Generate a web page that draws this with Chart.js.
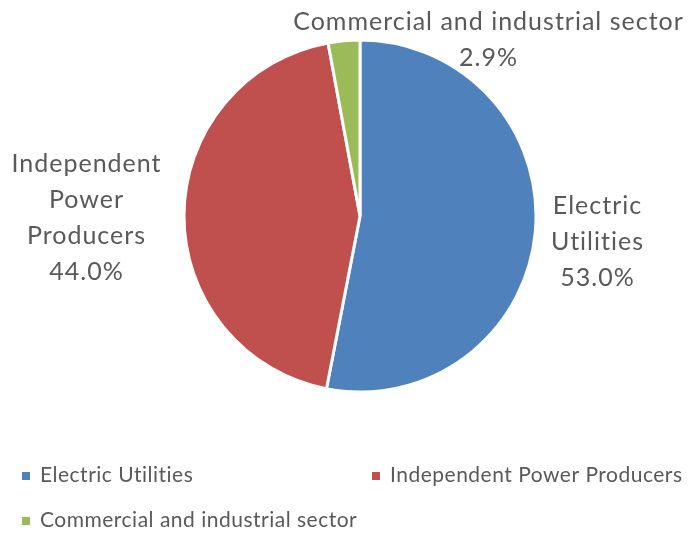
<!DOCTYPE html>
<html>
<head>
<meta charset="utf-8">
<script src="https://cdn.jsdelivr.net/npm/chart.js@4/dist/chart.umd.min.js"></script>
<style>
  html, body { margin: 0; padding: 0; background: #ffffff; }
  #wrap { width: 688px; height: 535px; }
</style>
</head>
<body>
<div id="wrap"><canvas id="c" width="688" height="535"></canvas></div>
<script>
// Ownership of capacity by sector (percent of total)
const categories = ['Electric Utilities', 'Independent Power Producers', 'Commercial and industrial sector'];
const shares = [53.0, 44.0, 2.9];
const shareLabels = ['53.0%', '44.0%', '2.9%'];
const sliceColors = ['#4F81BD', '#C0504D', '#9BBB59'];
// Category names as they wrap beside each slice
const wrappedNames = [['Electric', 'Utilities'], ['Independent', 'Power', 'Producers'], ['Commercial and industrial sector']];

const FONT = 'Lato, "Open Sans", sans-serif';
const TEXT = '#595959';

// Draws the wrapped category name plus percentage next to each slice
const sliceLabels = {
  id: 'sliceLabels',
  afterDatasetsDraw(chart, args, opts) {
    const ctx = chart.ctx;
    ctx.save();
    ctx.fillStyle = TEXT;
    ctx.font = opts.size + 'px ' + FONT;
    ctx.letterSpacing = opts.spacing + 'px';
    ctx.textAlign = 'center';
    ctx.textBaseline = 'middle';
    chart.data.labels.forEach((_, i) => {
      const a = opts.anchors[i];
      const lines = wrappedNames[i].concat([shareLabels[i]]);
      lines.forEach((t, k) => ctx.fillText(t, a.x + opts.spacing / 2, a.y + k * opts.lineHeight));
    });
    ctx.restore();
  }
};

// Two-column legend with small square swatches
const gridLegend = {
  id: 'gridLegend',
  afterDraw(chart, args, opts) {
    const ctx = chart.ctx;
    const ds = chart.data.datasets[0];
    ctx.save();
    ctx.font = opts.size + 'px ' + FONT;
    ctx.letterSpacing = opts.spacing + 'px';
    ctx.textBaseline = 'middle';
    ctx.textAlign = 'left';
    chart.data.labels.forEach((name, i) => {
      const p = opts.slots[i];
      ctx.fillStyle = ds.backgroundColor[i];
      ctx.fillRect(p.x, p.y - opts.box / 2 + 1, opts.box, opts.box);
      ctx.fillStyle = TEXT;
      ctx.fillText(name, p.x + opts.box + 10, p.y);
    });
    ctx.restore();
  }
};

new Chart(document.getElementById('c'), {
  type: 'pie',
  data: {
    labels: categories,
    datasets: [{
      data: shares,
      backgroundColor: sliceColors,
      borderColor: '#ffffff',
      borderWidth: 3
    }]
  },
  options: {
    responsive: false,
    animation: false,
    events: [],
    layout: { padding: { left: 182.5, right: 150.5, top: 38.5, bottom: 141.5 } },
    plugins: {
      legend: { display: false },
      tooltip: { enabled: false },
      sliceLabels: {
        size: 25,
        spacing: 1,
        lineHeight: 36,
        anchors: [{ x: 597, y: 206 }, { x: 86, y: 164 }, { x: 488, y: 22 }]
      },
      gridLegend: {
        size: 21,
        spacing: 0.5,
        box: 8,
        slots: [{ x: 22, y: 475 }, { x: 372, y: 475 }, { x: 22, y: 520 }]
      }
    }
  },
  plugins: [sliceLabels, gridLegend]
});
</script>
</body>
</html>
